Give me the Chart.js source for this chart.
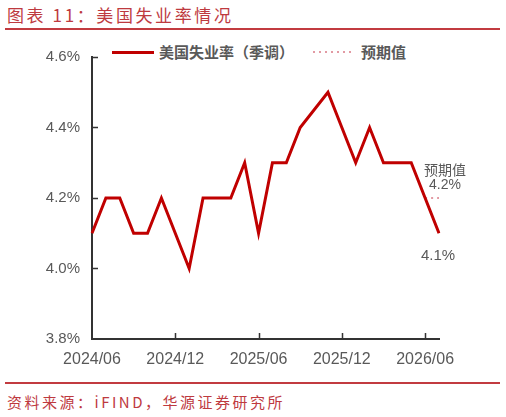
<!DOCTYPE html>
<html>
<head>
<meta charset="utf-8">
<script src="https://cdn.jsdelivr.net/npm/chart.js@4.4.1/dist/chart.umd.min.js"></script>
<style>
  body{margin:0;background:#fff;}
  #page{position:relative;width:506px;height:417px;overflow:hidden;font-family:"Noto Sans CJK SC",sans-serif;}
  .title{position:absolute;left:7px;top:3px;font-size:17px;line-height:24px;letter-spacing:2.6px;color:#BE3A3F;white-space:nowrap;}
  .rule{position:absolute;left:5px;width:495px;height:2px;background:#C23B40;}
  .source{position:absolute;left:7px;top:391px;font-size:15px;line-height:22px;letter-spacing:2.5px;color:#BE3A3F;white-space:nowrap;}
  .lgline{position:absolute;left:112px;top:51px;width:42px;height:3px;background:#C00000;}
  .lgdot{position:absolute;left:313px;top:51px;width:40px;height:2px;background:repeating-linear-gradient(to right,#E29AA3 0 2px,transparent 2px 6px);}
  .lgtext{position:absolute;top:41px;font-size:15px;line-height:22px;font-weight:bold;color:#595959;white-space:nowrap;}
  canvas{position:absolute;left:0;top:0;}
</style>
</head>
<body>
<div id="page">
  <div class="title">图表 11：美国失业率情况</div>
  <div class="rule" style="top:28px"></div>
  <div class="lgline"></div>
  <div class="lgtext" style="left:159px">美国失业率（季调）</div>
  <div class="lgdot"></div>
  <div class="lgtext" style="left:361px">预期值</div>
  <canvas id="myChart" width="506" height="380"></canvas>
  <div class="rule" style="top:382px"></div>
  <div class="source">资料来源：iFIND，华源证券研究所</div>
</div>
<script>
// monthly labels, only some are shown on the axis
const months = [
  '2024/06','2024/07','2024/08','2024/09','2024/10','2024/11','2024/12',
  '2025/01','2025/02','2025/03','2025/04','2025/05','2025/06','2025/07',
  '2025/08','2025/09','2025/10','2025/11','2025/12','2026/01','2026/02',
  '2026/03','2026/04','2026/05','2026/06','2026/07'
];
const xTickLabels = ['2024/06','2024/12','2025/06','2025/12','2026/06'];
const yTicks = [3.8, 4.0, 4.2, 4.4, 4.6];

// unemployment rate (%), one month has no value
const unemployment = [
  4.1, 4.2, 4.2, 4.1, 4.1, 4.2, 4.1, 4.0, 4.2, 4.2, 4.2, 4.3, 4.1,
  4.3, 4.3, 4.4, null, 4.5, 4.4, 4.3, 4.4, 4.3, 4.3, 4.3, 4.2, 4.1
];
// expected value
const forecast = [
  null, null, null, null, null, null, null, null, null, null, null, null, null,
  null, null, null, null, null, null, null, null, null, null, null, 4.2, 4.2
];

const axisColor = '#333333';
const labelColor = '#595959';

// inner tick marks + value notes at the end of the line
const extras = {
  id: 'extras',
  afterDatasetsDraw(chart){
    const {ctx, chartArea, scales: {x, y}} = chart;
    ctx.save();
    ctx.strokeStyle = axisColor;
    ctx.lineWidth = 1.5;
    ctx.beginPath();
    yTicks.slice(1).forEach(v => {
      const py = Math.round(y.getPixelForValue(v)) + 0.5;
      ctx.moveTo(chartArea.left, py);
      ctx.lineTo(chartArea.left + 6, py);
    });
    months.forEach((m, i) => {
      if(i > 0 && xTickLabels.includes(m)){
        const px = Math.round(x.getPixelForValue(i)) + 0.5;
        ctx.moveTo(px, chartArea.bottom);
        ctx.lineTo(px, chartArea.bottom - 6);
      }
    });
    ctx.stroke();

    const last = months.length - 1;
    ctx.fillStyle = labelColor;
    ctx.textAlign = 'center';
    ctx.textBaseline = 'middle';
    const fx = x.getPixelForValue(last) + 6;
    const fy = y.getPixelForValue(forecast[last]);
    ctx.font = '14px "Noto Sans CJK SC"';
    ctx.fillText('预期值', fx, fy - 28);
    ctx.font = '14px "Liberation Sans"';
    ctx.fillText(forecast[last].toFixed(1) + '%', fx, fy - 13);
    ctx.font = '15px "Liberation Sans"';
    ctx.fillText(unemployment[last].toFixed(1) + '%', x.getPixelForValue(last) - 1, y.getPixelForValue(unemployment[last]) + 23);
    ctx.restore();
  }
};

const data = {
  labels: months,
  datasets: [{
    label: '美国失业率（季调）',
    data: unemployment,
    borderColor: '#C00000',
    backgroundColor: '#C00000',
    borderWidth: 3,
    pointRadius: 0,
    tension: 0,
    spanGaps: true
  },{
    label: '预期值',
    data: forecast,
    borderColor: '#E29AA3',
    backgroundColor: '#E29AA3',
    borderWidth: 2,
    borderDash: [2, 4],
    pointRadius: 0,
    tension: 0
  }]
};

const config = {
  type: 'line',
  data: data,
  options: {
    responsive: false,
    animation: false,
    layout: { padding: { top: 57, left: 0, right: 0, bottom: 0 } },
    plugins: { legend: { display: false }, tooltip: { enabled: false } },
    scales: {
      x: {
        type: 'category',
        offset: false,
        grid: { display: false, drawTicks: false },
        border: { display: true, color: axisColor, width: 2 },
        ticks: {
          autoSkip: false,
          maxRotation: 0,
          padding: 11,
          color: labelColor,
          font: { family: 'Liberation Sans', size: 16 },
          callback: function(val){
            const lab = this.getLabelForValue(val);
            return xTickLabels.includes(lab) ? lab : '';
          }
        },
        afterFit: s => { s.height = 41; s.paddingLeft = 0; s.paddingRight = 67; }
      },
      y: {
        min: 3.8,
        max: 4.6,
        grid: { display: false, drawTicks: false },
        border: { display: true, color: axisColor, width: 2 },
        ticks: {
          padding: 12,
          color: labelColor,
          font: { family: 'Liberation Sans', size: 15 },
          callback: v => v.toFixed(1) + '%'
        },
        afterBuildTicks: s => { s.ticks = yTicks.map(v => ({ value: v })); },
        afterFit: s => { s.width = 92; s.paddingTop = 0; s.paddingBottom = 0; }
      }
    }
  },
  plugins: [extras]
};

const myChart = new Chart(document.getElementById('myChart'), config);
</script>
</body>
</html>
